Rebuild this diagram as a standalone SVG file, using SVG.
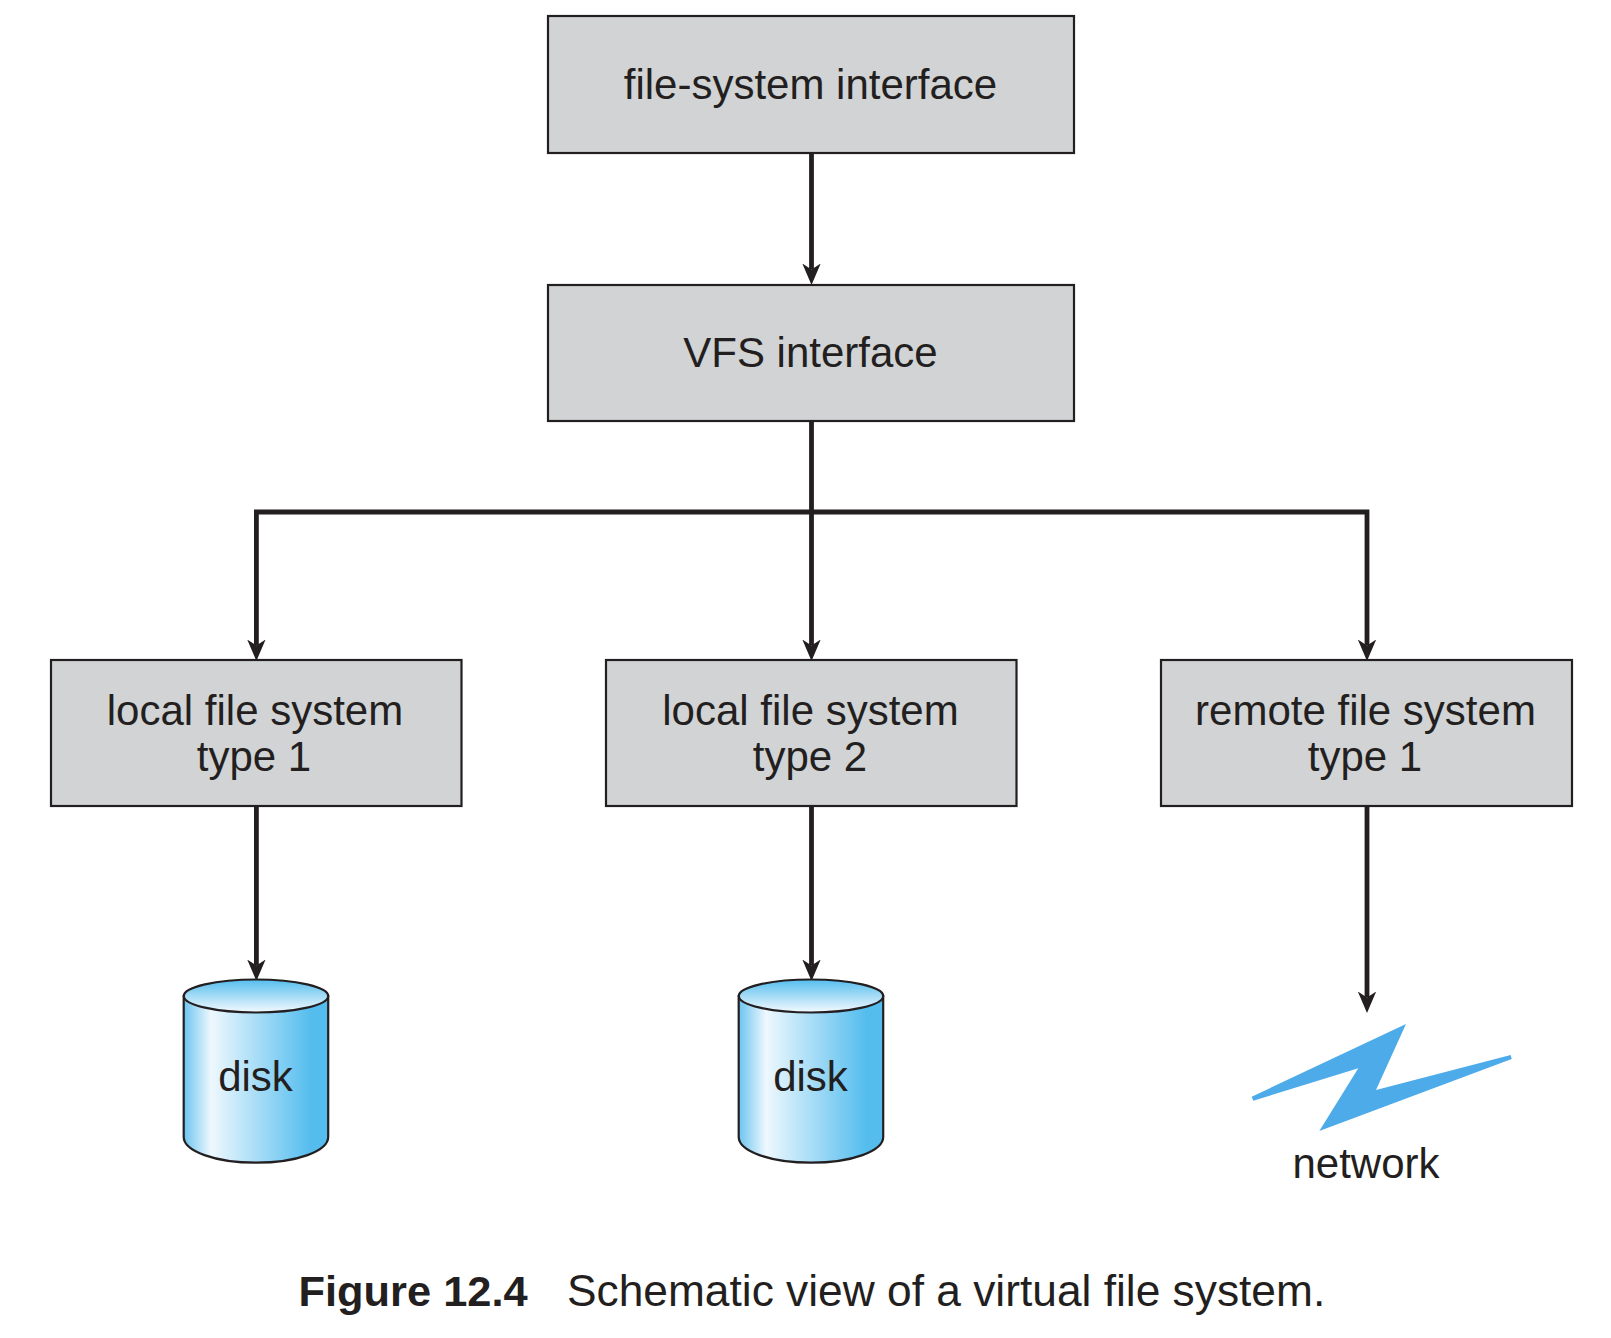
<svg xmlns="http://www.w3.org/2000/svg" width="1611" height="1338" viewBox="0 0 1611 1338">
<style>
text{font-family:"Liberation Sans",Arial,sans-serif;font-size:42px;fill:#231f20;text-anchor:middle}
.box{fill:#d1d3d4;stroke:#231f20;stroke-width:2.2}
.wire{fill:none;stroke:#231f20;stroke-width:4.8;marker-end:url(#head)}
.cyl{stroke:#231f20;stroke-width:2.2}
</style>
<defs>
<marker id="head" markerUnits="userSpaceOnUse" markerWidth="24" markerHeight="22" refX="6" refY="10" orient="auto"><path d="M0,0.8 L21.5,10 L0,19.2 L6,10 Z" fill="#231f20"/></marker>
<linearGradient id="side" x1="0" x2="1" y1="0" y2="0"><stop offset="0" stop-color="#6cc4ef"/><stop offset="0.19" stop-color="#eef8fe"/><stop offset="0.88" stop-color="#55bdee"/><stop offset="1" stop-color="#55bdee"/></linearGradient>
<linearGradient id="lid" x1="0" x2="0" y1="0" y2="1"><stop offset="0" stop-color="#55bdee"/><stop offset="1" stop-color="#f4fafe"/></linearGradient>
<g id="cylinder"><path class="cyl" fill="url(#side)" d="M183.7,996 V1137 C183.7,1151 215,1162.7 256,1162.7 S328.2,1151 328.2,1137 V996 Z"/><ellipse class="cyl" fill="url(#lid)" cx="256" cy="996" rx="72.2" ry="16.5"/></g>
</defs>
<g id="connectors">
<path class="wire" d="M811.5,153 V269.5"/>
<path class="wire" d="M811.5,421 V645.5"/>
<path class="wire" d="M811.5,512 H256.4 V645.5"/>
<path class="wire" d="M811.5,512 H1367 V645.5"/>
<path class="wire" d="M256.4,806 V965.5"/>
<path class="wire" d="M811.5,806 V965.5"/>
<path class="wire" d="M1367,806 V997.5"/>
</g>
<g id="fs-interface"><rect class="box" x="548" y="16" width="526" height="137"/><text x="810.5" y="99">file-system interface</text></g>
<g id="vfs-interface"><rect class="box" x="548" y="285" width="526" height="136"/><text x="810.5" y="367">VFS interface</text></g>
<g id="local-1"><rect class="box" x="51" y="660" width="410.5" height="146"/><text x="255" y="724.8">local file system</text><text x="254" y="771">type 1</text></g>
<g id="local-2"><rect class="box" x="606" y="660" width="410.5" height="146"/><text x="810.5" y="724.8">local file system</text><text x="810" y="771">type 2</text></g>
<g id="remote-1"><rect class="box" x="1161" y="660" width="411" height="146"/><text x="1365.5" y="724.8">remote file system</text><text x="1365" y="771">type 1</text></g>
<g id="disk-1"><use href="#cylinder"/><text x="255.5" y="1090.5">disk</text></g>
<g id="disk-2"><use href="#cylinder" x="555"/><text x="810.5" y="1090.5">disk</text></g>
<g id="network"><polygon fill="#4dabe9" points="1251.7,1096.7 1406,1024 1376,1090 1510.7,1055 1511.7,1059 1319.3,1131 1358.3,1068.3 1253.3,1100.7"/><text x="1366" y="1177.5">network</text></g>
<g id="caption"><text x="298.5" y="1305.7" style="text-anchor:start;font-weight:bold;font-size:43.4px">Figure 12.4</text><text x="567" y="1305.7" style="text-anchor:start;font-size:44.3px">Schematic view of a virtual file system.</text></g>
</svg>
